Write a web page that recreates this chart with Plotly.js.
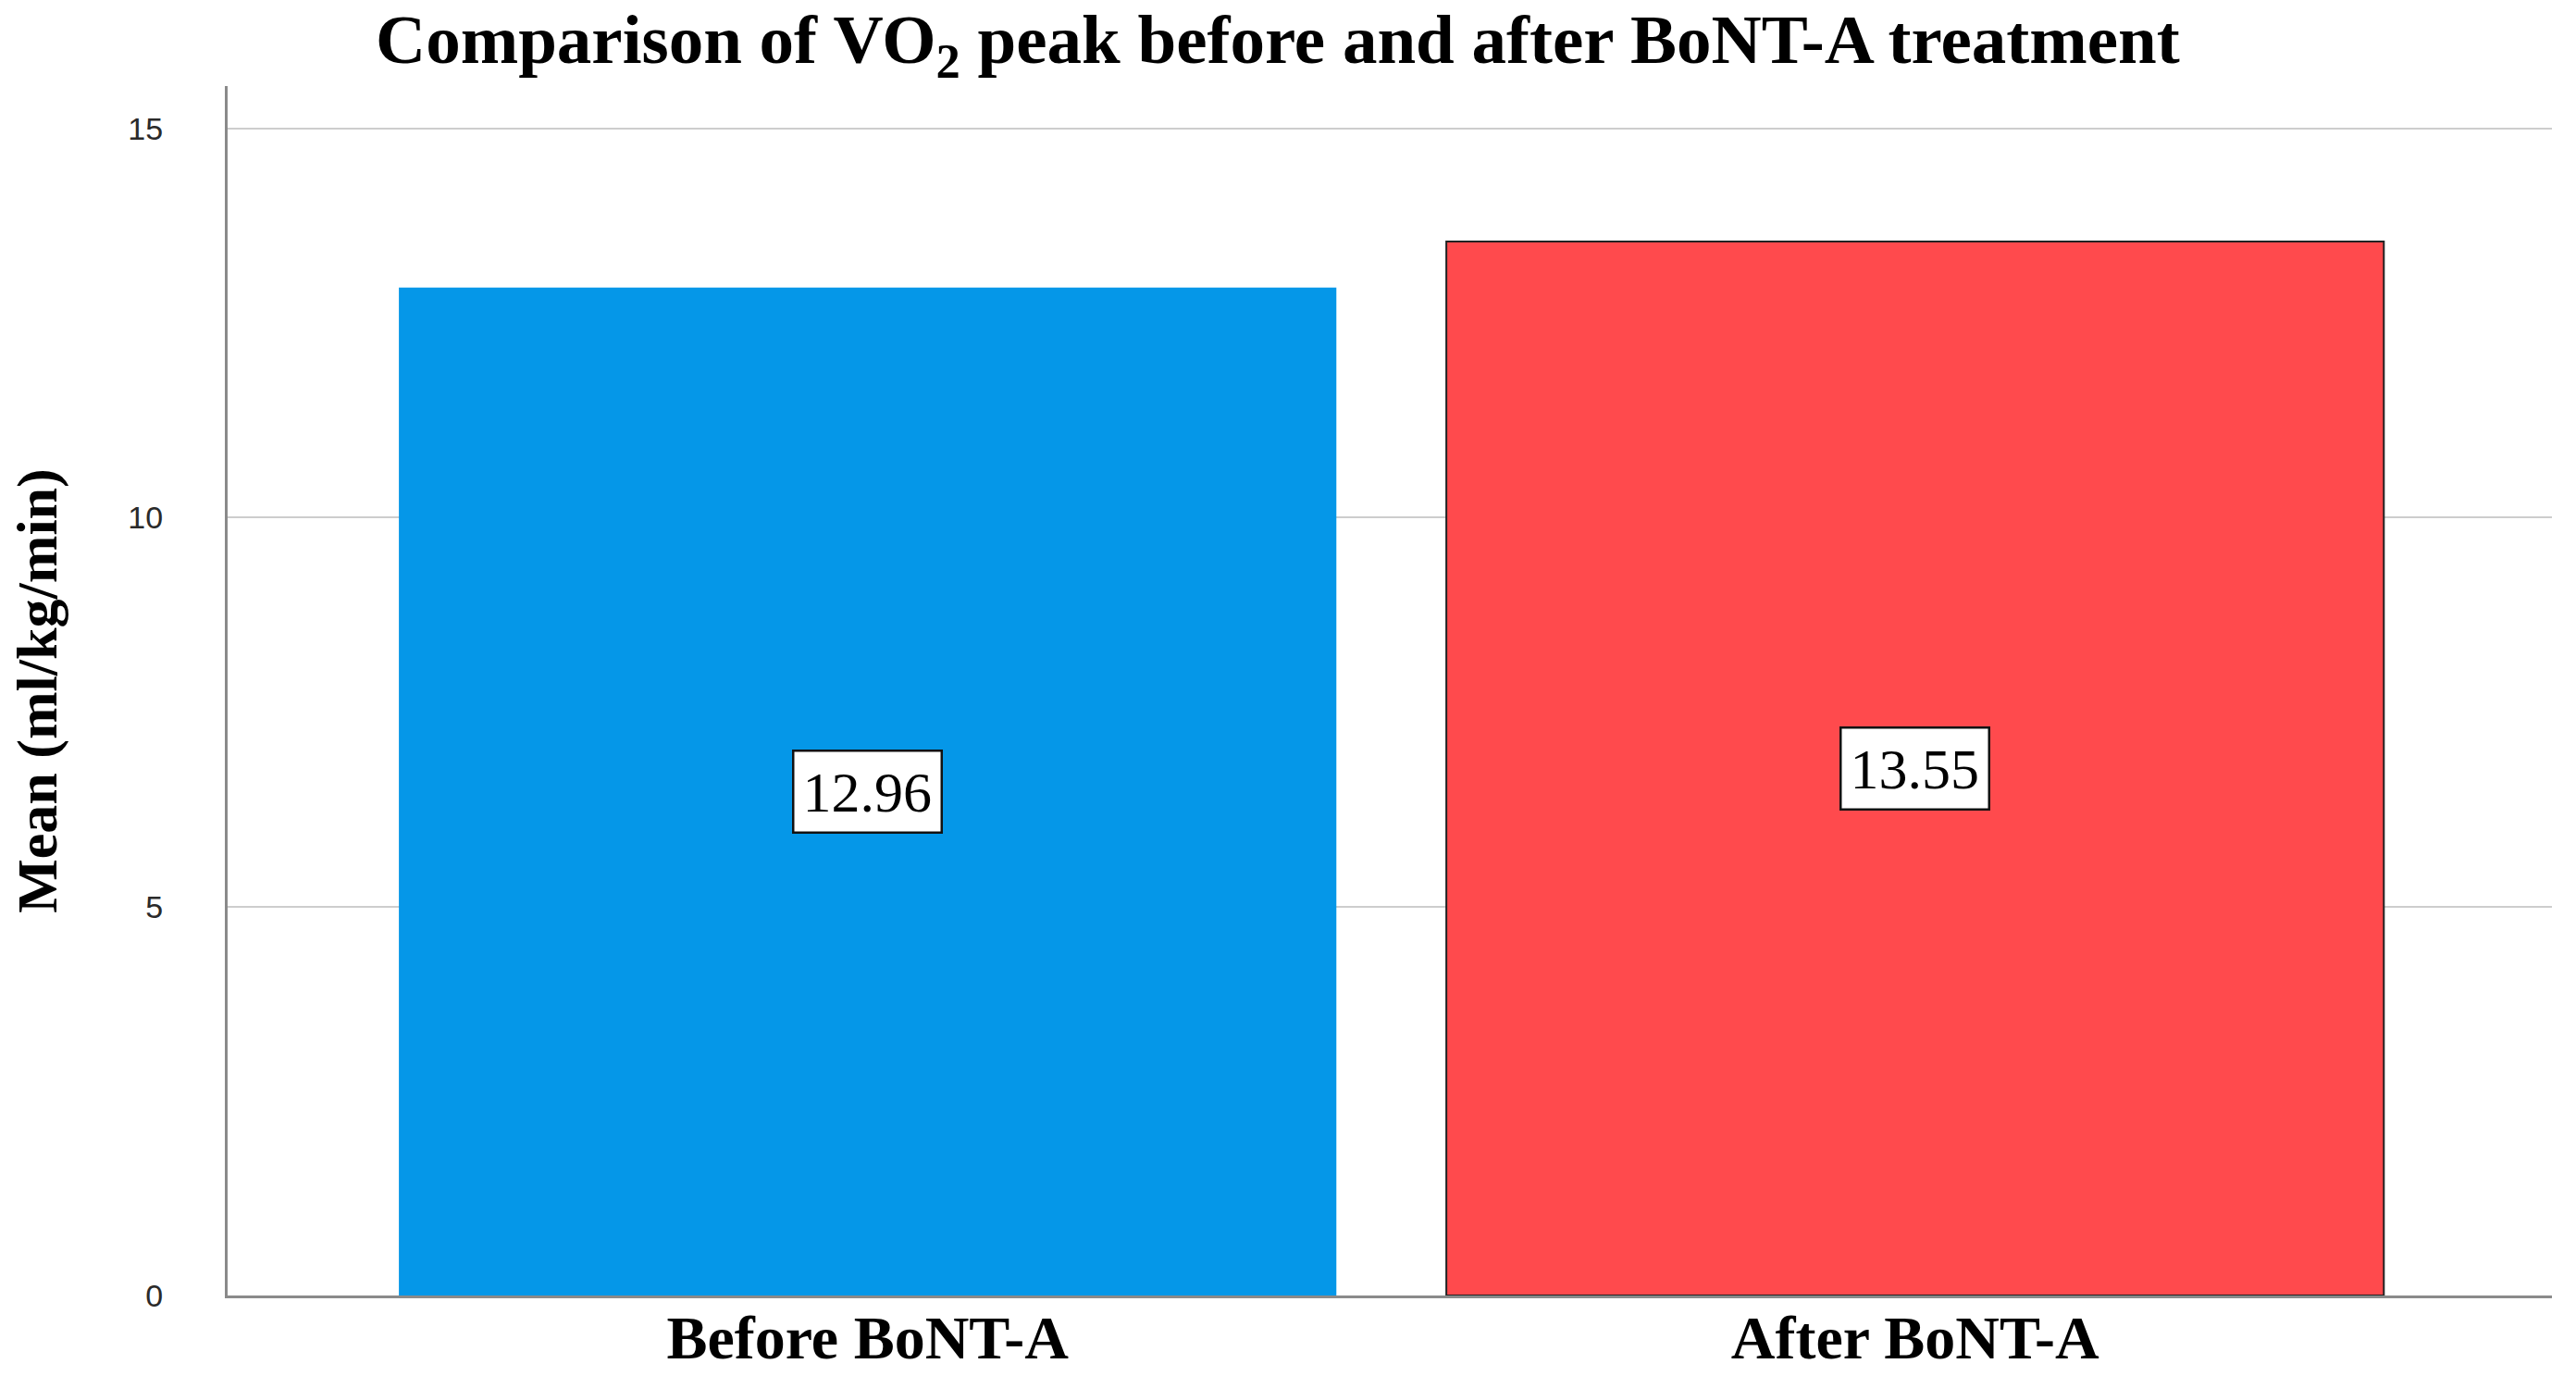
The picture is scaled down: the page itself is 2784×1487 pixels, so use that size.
<!DOCTYPE html>
<html>
<head>
<meta charset="utf-8">
<script src="https://cdn.plot.ly/plotly-3.0.1.min.js"></script>
<style>
  html, body { margin: 0; padding: 0; background: #fff; }
  #chart { width: 2784px; height: 1487px; }
</style>
</head>
<body>
<div id="chart"></div>
<script>
// VO2 peak means before / after treatment
const groups = ["Before BoNT-A", "After BoNT-A"];
const means = [12.96, 13.55];
const barColors = ["#0597e8", "#ff4a4d"];
const outlineColors = ["rgba(0,0,0,0)", "#222222"];
const outlineWidths = [0, 2];

const serif = "Liberation Serif, DejaVu Serif, serif";
const sans = "Liberation Sans, Arial, sans-serif";

const trace = {
    type: "bar",
    x: groups,
    y: means,
    width: 0.895,
    marker: {
        color: barColors,
        line: { color: outlineColors, width: outlineWidths },
    },
    hoverinfo: "x+y",
};

// value labels in white boxes, centred half way up each bar
const labels = groups.map((g, i) => ({
    x: g,
    y: means[i] / 2,
    xref: "x",
    yref: "y",
    text: means[i].toFixed(2),
    showarrow: false,
    font: { family: serif, size: 62, color: "#000" },
    bgcolor: "#ffffff",
    bordercolor: "#111111",
    borderwidth: 2.5,
    borderpad: 9,
}));

const layout = {
    width: 2784,
    height: 1487,
    paper_bgcolor: "#ffffff",
    plot_bgcolor: "#ffffff",
    margin: { l: 246, r: 26, t: 93, b: 87 },
    showlegend: false,
    title: {
        text: "Comparison of VO<sub>2</sub> peak before and after BoNT-A treatment",
        font: { family: serif, size: 75, color: "#000", weight: "bold" },
        x: 0.496,
        xanchor: "center",
        y: 0.972,
        yanchor: "middle",
    },
    xaxis: {
        range: [-0.611, 1.608],
        showline: true,
        linecolor: "#8a8a8a",
        linewidth: 3,
        showgrid: false,
        zeroline: false,
        ticks: "",
        ticklabelstandoff: -14,
        tickfont: { family: serif, size: 66, color: "#000", weight: "bold" },
    },
    yaxis: {
        range: [0, 15.55],
        dtick: 5,
        tick0: 0,
        showline: true,
        linecolor: "#8a8a8a",
        linewidth: 3,
        showgrid: true,
        gridcolor: "#cdcdcd",
        gridwidth: 2,
        zeroline: false,
        ticks: "",
        ticklabelstandoff: 60,
        tickfont: { family: sans, size: 34, color: "#2a2a2a" },
        title: {
            text: "Mean (ml/kg/min)",
            font: { family: serif, size: 62, color: "#000", weight: "bold" },
            standoff: 57,
        },
    },
    annotations: labels,
};

Plotly.newPlot("chart", [trace], layout, { staticPlot: true });
</script>
</body>
</html>
